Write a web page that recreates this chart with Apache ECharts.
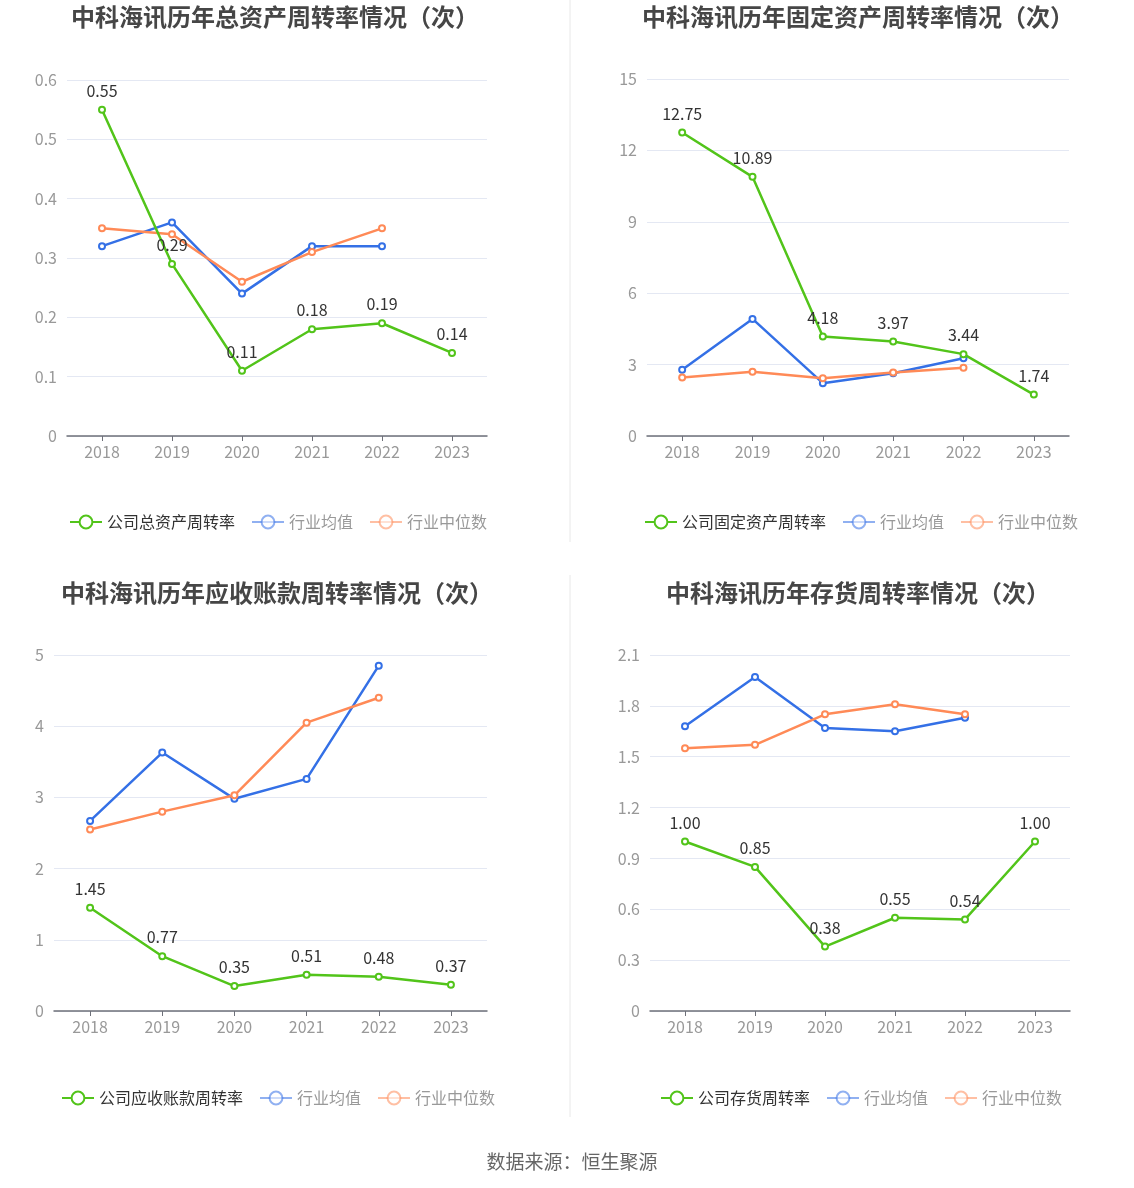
<!DOCTYPE html>
<html><head><meta charset="utf-8">
<script src="https://cdn.jsdelivr.net/npm/echarts@6/dist/echarts.min.js"></script>
<style>html,body{margin:0;padding:0;background:#fff}#c{width:1134px;height:1188px}</style>
</head><body><div id="c"></div>
<script>
const years = ['2018','2019','2020','2021','2022','2023'];

const titles = ['中科海讯历年总资产周转率情况（次）','中科海讯历年固定资产周转率情况（次）','中科海讯历年应收账款周转率情况（次）','中科海讯历年存货周转率情况（次）'];
const companyNames = ['公司总资产周转率','公司固定资产周转率','公司应收账款周转率','公司存货周转率'];

const totalAssetCompany = [0.55, 0.29, 0.11, 0.18, 0.19, 0.14];
const totalAssetMean = [0.32, 0.36, 0.24, 0.32, 0.32];
const totalAssetMedian = [0.35, 0.34, 0.26, 0.31, 0.35];

const fixedAssetCompany = [12.75, 10.89, 4.18, 3.97, 3.44, 1.74];
const fixedAssetMean = [2.78, 4.92, 2.22, 2.64, 3.27];
const fixedAssetMedian = [2.46, 2.70, 2.43, 2.67, 2.87];

const receivableCompany = [1.45, 0.77, 0.35, 0.51, 0.48, 0.37];
const receivableMean = [2.67, 3.63, 2.98, 3.26, 4.85];
const receivableMedian = [2.55, 2.80, 3.03, 4.05, 4.40];

const inventoryCompany = [1.00, 0.85, 0.38, 0.55, 0.54, 1.00];
const inventoryMean = [1.68, 1.97, 1.67, 1.65, 1.73];
const inventoryMedian = [1.55, 1.57, 1.75, 1.81, 1.75];

const yMax = [0.6, 15, 5, 2.1];
const yInterval = [0.1, 3, 1, 0.3];

const companySets = [totalAssetCompany, fixedAssetCompany, receivableCompany, inventoryCompany];
const meanSets = [totalAssetMean, fixedAssetMean, receivableMean, inventoryMean];
const medianSets = [totalAssetMedian, fixedAssetMedian, receivableMedian, inventoryMedian];

const GREEN = '#52c41a', BLUE = '#3470e6', ORANGE = '#ff8a57';
const FONT = '"Noto Sans CJK SC", "Noto Sans", sans-serif';

const grids = [
  {left: 67, top: 80, width: 420, height: 356},
  {left: 647, top: 79, width: 422, height: 357},
  {left: 54, top: 655, width: 433, height: 356},
  {left: 650, top: 655, width: 420, height: 356}
];
const titlePos = [[270, 0], [853, 0], [272, 576], [853, 576]];
const legendPos = [[64, 509], [639, 509], [56, 1085], [655, 1085]];

const option = {
  backgroundColor: '#fff',
  textStyle: {fontFamily: FONT},
  animation: false,
  title: titles.map((t, i) => ({
    text: t, left: titlePos[i][0], top: titlePos[i][1], textAlign: 'center',
    textStyle: {fontSize: 24, fontWeight: 'bold', color: '#464646', fontFamily: FONT}
  })).concat([{
    text: '数据来源：恒生聚源', left: 567, top: 1147, textAlign: 'center',
    textStyle: {fontSize: 19, fontWeight: 'normal', color: '#666', fontFamily: FONT}
  }]),
  legend: companyNames.map((n, i) => ({
    left: legendPos[i][0], top: legendPos[i][1], width: 520,
    itemWidth: 32, itemHeight: 16, itemGap: 16,
    textStyle: {fontSize: 16, fontFamily: FONT},
    data: [
      {name: n, textStyle: {color: '#333'}},
      {name: '行业均值', textStyle: {color: '#999'}, itemStyle: {opacity: 0.55}, lineStyle: {opacity: 0.55}},
      {name: '行业中位数', textStyle: {color: '#999'}, itemStyle: {opacity: 0.55}, lineStyle: {opacity: 0.55}}
    ]
  })),
  grid: grids.map(g => Object.assign({containLabel: false}, g)),
  xAxis: grids.map((g, i) => ({
    type: 'category', gridIndex: i, data: years, boundaryGap: true,
    axisLine: {lineStyle: {color: '#6e7079', width: 1.5}},
    axisTick: {show: true, alignWithLabel: true, lineStyle: {color: '#6e7079'}},
    axisLabel: {fontSize: 16, color: '#999', margin: 8, fontFamily: FONT}
  })),
  yAxis: grids.map((g, i) => ({
    type: 'value', gridIndex: i, min: 0, max: yMax[i], interval: yInterval[i],
    axisLine: {show: false}, axisTick: {show: false},
    axisLabel: {fontSize: 16, color: '#999', margin: 10, fontFamily: FONT},
    splitLine: {lineStyle: {color: '#e4e8f3', width: 1}}
  })),
  series: [],
  graphic: [
    {type: 'line', shape: {x1: 570, y1: 0, x2: 570, y2: 542}, style: {stroke: '#e8e8e8', lineWidth: 1}},
    {type: 'line', shape: {x1: 570, y1: 575, x2: 570, y2: 1117}, style: {stroke: '#e8e8e8', lineWidth: 1}}
  ]
};

for (let i = 0; i < 4; i++) {
  option.series.push({
    name: '行业均值', type: 'line', xAxisIndex: i, yAxisIndex: i, data: meanSets[i],
    symbol: 'emptyCircle', symbolSize: 6, lineStyle: {width: 2.5, color: BLUE},
    itemStyle: {color: BLUE, borderWidth: 2}, z: 2
  });
  option.series.push({
    name: '行业中位数', type: 'line', xAxisIndex: i, yAxisIndex: i, data: medianSets[i],
    symbol: 'emptyCircle', symbolSize: 6, lineStyle: {width: 2.5, color: ORANGE},
    itemStyle: {color: ORANGE, borderWidth: 2}, z: 3
  });
  option.series.push({
    name: companyNames[i], type: 'line', xAxisIndex: i, yAxisIndex: i, data: companySets[i],
    symbol: 'emptyCircle', symbolSize: 6, lineStyle: {width: 2.5, color: GREEN},
    itemStyle: {color: GREEN, borderWidth: 2}, z: 4,
    label: {show: true, position: 'top', distance: 7, fontSize: 16, color: '#333', fontFamily: FONT,
      formatter: p => p.value.toFixed(2)}
  });
}

const chart = echarts.init(document.getElementById('c'));
chart.setOption(option);
</script></body></html>
